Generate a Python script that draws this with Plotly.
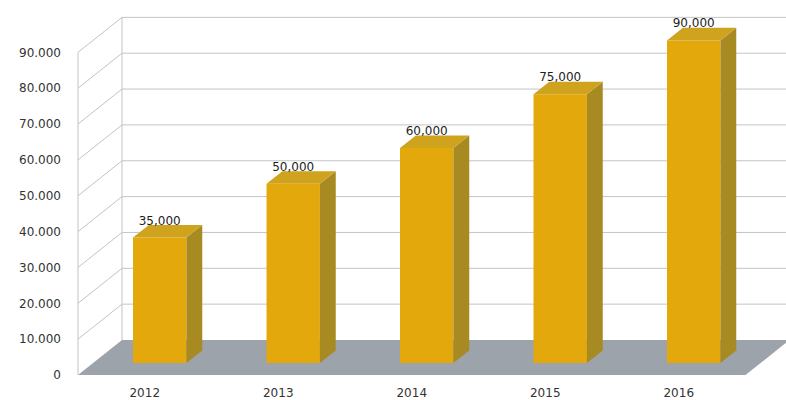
import plotly.graph_objects as go

# ---- data ----
years = ["2012", "2013", "2014", "2015", "2016"]
values = [35000, 50000, 60000, 75000, 90000]
y_ticks = [0, 10000, 20000, 30000, 40000, 50000, 60000, 70000, 80000, 90000]
y_tick_labels = [f"{v:,}".replace(",", ".") for v in y_ticks]

# ---- oblique "3-D" projection settings ----
W, H = 786, 400
M_L, M_R, M_T, M_B = 70, 0, 0, 20
PX_PER_CAT = 133.5            # horizontal pixels per category
PX_PER_VAL = 35.85 / 10000    # vertical pixels per value unit
DEPTH_PX_X, DEPTH_PX_Y = 44, 35   # full-depth offset of the back wall
DX = DEPTH_PX_X / PX_PER_CAT      # depth offset in x data units
DY = DEPTH_PX_Y / PX_PER_VAL      # depth offset in y data units
D_FRONT, D_BACK = 0.34, 0.70      # bar position inside the depth
BAR_W = 0.40

x0 = -0.5 - 8 / PX_PER_CAT
x1 = x0 + (W - M_L - M_R) / PX_PER_CAT
y0 = -5 / PX_PER_VAL
y1 = (H - M_B - 5) / PX_PER_VAL

n = len(years)
floor_l, floor_r = -0.5, n - 0.5
grid_col = "#c4c4c4"

FRONT_COL = "#e3a90c"
SIDE_COL = "#a88a22"
TOP_COL = "#cfa31e"
FLOOR_COL = "#9da3ab"

fig = go.Figure()

# floor (a shape below the traces so the bars stand on it)
fig.add_shape(
    type="path", xref="x", yref="y", layer="below",
    path=(f"M {floor_l},0 L {floor_r},0 L {floor_r + DX},{DY} "
          f"L {floor_l + DX},{DY} Z"),
    fillcolor=FLOOR_COL, line=dict(width=0))

# back wall and side wall grid lines
for v in y_ticks:
    if v > 0:
        fig.add_shape(type="line", xref="x", yref="y", layer="below",
                      x0=floor_l + DX, y0=v + DY, x1=x1, y1=v + DY,
                      line=dict(color=grid_col, width=1))
        fig.add_shape(type="line", xref="x", yref="y", layer="below",
                      x0=floor_l, y0=v, x1=floor_l + DX, y1=v + DY,
                      line=dict(color=grid_col, width=1))
# wall edges
fig.add_shape(type="line", xref="x", yref="y", layer="below",
              x0=floor_l, y0=0, x1=floor_l, y1=y_ticks[-1],
              line=dict(color=grid_col, width=1))
fig.add_shape(type="line", xref="x", yref="y", layer="below",
              x0=floor_l + DX, y0=DY, x1=floor_l + DX, y1=y_ticks[-1] + DY,
              line=dict(color=grid_col, width=1))

# bar front faces
xc = [i + D_FRONT * DX for i in range(n)]
base = D_FRONT * DY
fig.add_trace(go.Bar(
    x=xc, y=values, base=base, width=BAR_W,
    marker=dict(color=FRONT_COL, line=dict(width=0)), hoverinfo="skip"))

# bar side and top faces
dd = D_BACK - D_FRONT
sx, sy, tx, ty = [], [], [], []
for c, v in zip(xc, values):
    xl, xr = c - BAR_W / 2, c + BAR_W / 2
    top = base + v
    sx += [xr, xr + dd * DX, xr + dd * DX, xr, xr, None]
    sy += [base, base + dd * DY, top + dd * DY, top, base, None]
    tx += [xl, xr, xr + dd * DX, xl + dd * DX, xl, None]
    ty += [top, top, top + dd * DY, top + dd * DY, top, None]
fig.add_trace(go.Scatter(x=sx, y=sy, mode="lines", fill="toself",
                         fillcolor=SIDE_COL, line=dict(width=0),
                         hoverinfo="skip"))
fig.add_trace(go.Scatter(x=tx, y=ty, mode="lines", fill="toself",
                         fillcolor=TOP_COL, line=dict(width=0),
                         hoverinfo="skip"))

# value labels
fig.add_trace(go.Scatter(
    x=xc, y=[v + D_BACK * DY + 3.5 / PX_PER_VAL for v in values],
    mode="text", text=[f"{v:,}" for v in values],
    textposition="middle center",
    textfont=dict(family="DejaVu Sans", size=12, color="#1e1e1e"),
    cliponaxis=False, hoverinfo="skip"))

fig.update_layout(
    width=W, height=H,
    margin=dict(l=M_L, r=M_R, t=M_T, b=M_B),
    paper_bgcolor="white", plot_bgcolor="white",
    showlegend=False, hovermode=False,
    font=dict(family="DejaVu Sans", size=12, color="#333333"),
    xaxis=dict(range=[x0, x1], tickmode="array",
               tickvals=list(range(n)), ticktext=years,
               showgrid=False, zeroline=False, showline=False, ticks="",
               ticklabelstandoff=4, fixedrange=True),
    yaxis=dict(range=[y0, y1], tickmode="array",
               tickvals=y_ticks, ticktext=y_tick_labels,
               showgrid=False, zeroline=False, showline=False, ticks="",
               ticklabelstandoff=8, fixedrange=True),
)

fig.write_html("out.html")
